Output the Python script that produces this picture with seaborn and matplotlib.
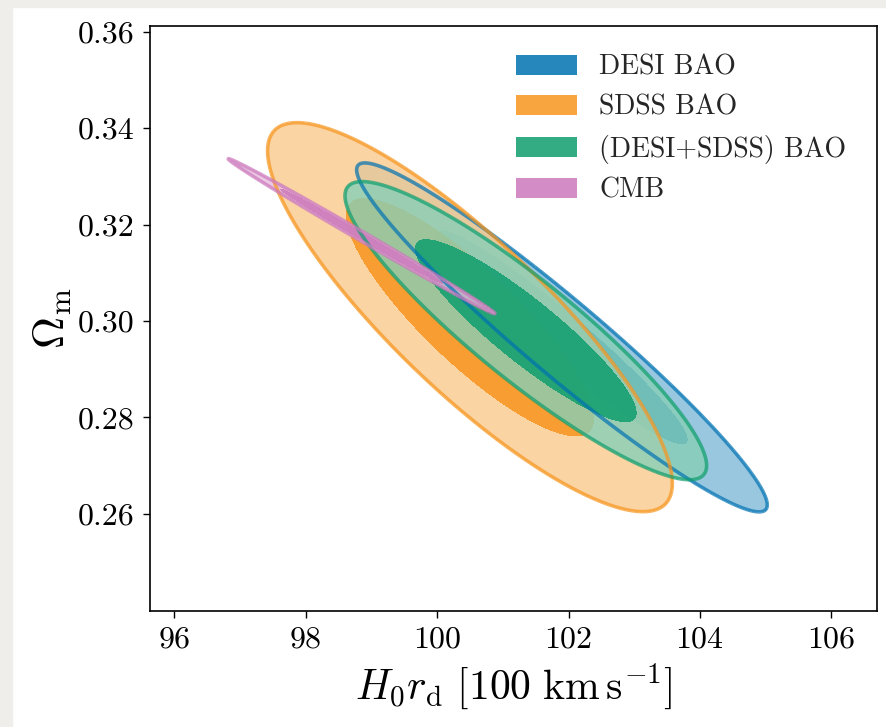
import numpy as np
import matplotlib
matplotlib.use("Agg")
import matplotlib.pyplot as plt
import matplotlib.patches as mpatches
from matplotlib.colors import to_rgb
import seaborn as sns

sns.set_theme(style="ticks")
plt.rcParams['font.family'] = 'serif'
plt.rcParams['font.serif'] = ['cmr10']
plt.rcParams['mathtext.fontset'] = 'cm'
plt.rcParams['axes.formatter.use_mathtext'] = True

# Gaussian approximations of the posteriors
labels = ['DESI BAO', 'SDSS BAO', '(DESI+SDSS) BAO', 'CMB']
mean_h0rd = [101.90, 100.50, 101.35, 98.85]
mean_om = [0.2966, 0.3008, 0.2980, 0.3176]
sig_h0rd = [1.257, 1.239, 1.107, 0.817]
sig_om = [0.01456, 0.01623, 0.01244, 0.00647]
corr = [-0.960, -0.855, -0.905, -0.9977]
colors = ['#0072B2', '#F7941D', '#0f9e6e', '#CC78BC']

# delta chi^2 for 68% and 95% in 2D
lev1, lev2 = 2.30, 6.18

fig = plt.figure(figsize=(8.86, 7.27), dpi=100)
fig.patch.set_facecolor('white')
# grey border of the original screenshot
fig.patches.append(mpatches.Rectangle((0, 0), 12/886, 1, transform=fig.transFigure,
                                      color='#efeeea', zorder=-10))
fig.patches.append(mpatches.Rectangle((0, 1-7/727), 1, 7/727, transform=fig.transFigure,
                                      color='#efeeea', zorder=-10))
ax = fig.add_axes([150/886, 1-610.7/727, (877.3-150)/886, (610.7-26)/727])

x = np.linspace(95.5, 106.8, 1600)
y = np.linspace(0.238, 0.363, 1600)
X, Y = np.meshgrid(x, y)

for i in range(len(labels)):
    dx = (X - mean_h0rd[i]) / sig_h0rd[i]
    dy = (Y - mean_om[i]) / sig_om[i]
    r = corr[i]
    chi2 = (dx**2 - 2*r*dx*dy + dy**2) / (1 - r**2)
    c = colors[i]
    light = 0.5*np.array(to_rgb(c)) + 0.5
    ax.contourf(X, Y, chi2, levels=[0, lev2], colors=[light], alpha=0.8)
    ax.contourf(X, Y, chi2, levels=[0, lev1], colors=[c], alpha=0.85)
    ax.contour(X, Y, chi2, levels=[lev2], colors=[c], linewidths=2.6, alpha=0.7)

ax.set_xlim(95.63, 106.70)
ax.set_ylim(0.2399, 0.3612)
ax.set_xticks([96, 98, 100, 102, 104, 106])
ax.set_yticks([0.26, 0.28, 0.30, 0.32, 0.34, 0.36])
ax.set_yticklabels(['0.26', '0.28', '0.30', '0.32', '0.34', '0.36'])
ax.tick_params(labelsize=23, length=5, width=1, pad=6, color='black', labelcolor='black')
for s in ax.spines.values():
    s.set_color('black')
    s.set_linewidth(1.2)

ax.set_xlabel(r'$H_0 r_{\rm d}\ [100\ {\rm km\,s^{-1}}]$', fontsize=30, labelpad=6, color='black')
ax.set_ylabel(r'$\Omega_{\rm m}$', fontsize=32, labelpad=3, color='black')

handles = [mpatches.Patch(facecolor=colors[i], alpha=0.85, edgecolor='none') for i in range(len(labels))]
ax.legend(handles, labels, loc='upper right', frameon=False, fontsize=20,
          handlelength=2.2, handleheight=0.75, handletextpad=0.8, labelspacing=0.5,
          borderaxespad=0.3, bbox_to_anchor=(0.984, 0.985))

fig.savefig('out.png', dpi=100)
